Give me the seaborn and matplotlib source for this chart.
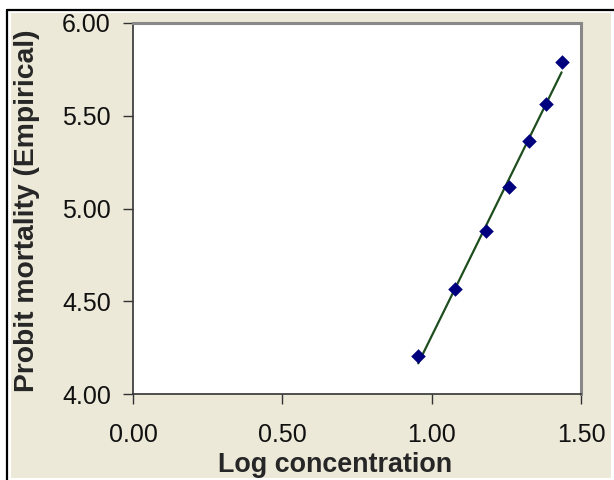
import numpy as np
import pandas as pd
import matplotlib
matplotlib.use('Agg')
import matplotlib.pyplot as plt
from matplotlib.patches import Rectangle
from matplotlib.lines import Line2D
import seaborn as sns

# values
log_conc = [0.955, 1.079, 1.181, 1.260, 1.325, 1.383, 1.435]
probit = [4.205, 4.564, 4.877, 5.114, 5.362, 5.563, 5.790]
x_ticks = [0.0, 0.5, 1.0, 1.5]
y_ticks = [4.0, 4.5, 5.0, 5.5, 6.0]

df = pd.DataFrame({'Log concentration': log_conc,
                   'Probit mortality (Empirical)': probit})

sns.set_style('white')
plt.rcParams['font.family'] = ['Liberation Sans', 'DejaVu Sans']

W, H = 614, 480
fig = plt.figure(figsize=(W / 100, H / 100), dpi=100, facecolor='white')

# beige chart area with the black frame on the left and top
fig.patches.append(Rectangle((11 / W, 1 - 478 / H), 600 / W, 465 / H,
                             transform=fig.transFigure, facecolor='#ECE9D8',
                             edgecolor='none', zorder=-2))
fig.lines.append(Line2D([7 / W, 7 / W], [0, 1 - 10 / H], transform=fig.transFigure,
                        color='black', lw=1.6, zorder=-1))
fig.lines.append(Line2D([7 / W, 1], [1 - 10 / H, 1 - 10 / H], transform=fig.transFigure,
                        color='black', lw=1.6, zorder=-1))

ax = fig.add_axes([133 / W, 1 - 394 / H, 448 / W, 371 / H])
ax.set_facecolor('white')

sns.regplot(data=df, x='Log concentration', y='Probit mortality (Empirical)',
            scatter=False, ci=None, ax=ax,
            line_kws={'color': '#1E4D1E', 'lw': 1.6, 'zorder': 2})
sns.scatterplot(data=df, x='Log concentration', y='Probit mortality (Empirical)',
                marker='D', s=55, color='#00007F', edgecolor='#00007F',
                linewidth=0, ax=ax, zorder=3)

ax.set_xlim(0, 1.5)
ax.set_ylim(4, 6)
ax.set_xticks(x_ticks)
ax.set_yticks(y_ticks)
ax.set_xticklabels([f'{v:.2f}' for v in x_ticks])
ax.set_yticklabels([f'{v:.2f}' for v in y_ticks])
ax.tick_params(axis='both', direction='out', length=7, width=1, color='#333333',
               labelsize=18, labelcolor='#111111')
ax.tick_params(axis='x', pad=14, bottom=True)
ax.tick_params(axis='y', pad=9, left=True)

for side in ['top', 'right']:
    ax.spines[side].set_color('#888888')
    ax.spines[side].set_linewidth(2.2)
for side in ['left', 'bottom']:
    ax.spines[side].set_color('#333333')
    ax.spines[side].set_linewidth(1.2)

ax.set_xlabel('Log concentration', fontsize=19.4, fontweight='bold')
ax.set_ylabel('Probit mortality (Empirical)', fontsize=20.3, fontweight='bold')
ax.xaxis.set_label_coords((335 - 133) / 448, -58 / 371)
ax.yaxis.set_label_coords(-93 / 448, 0.493)

fig.savefig('out.png', dpi=100, facecolor=fig.get_facecolor())
